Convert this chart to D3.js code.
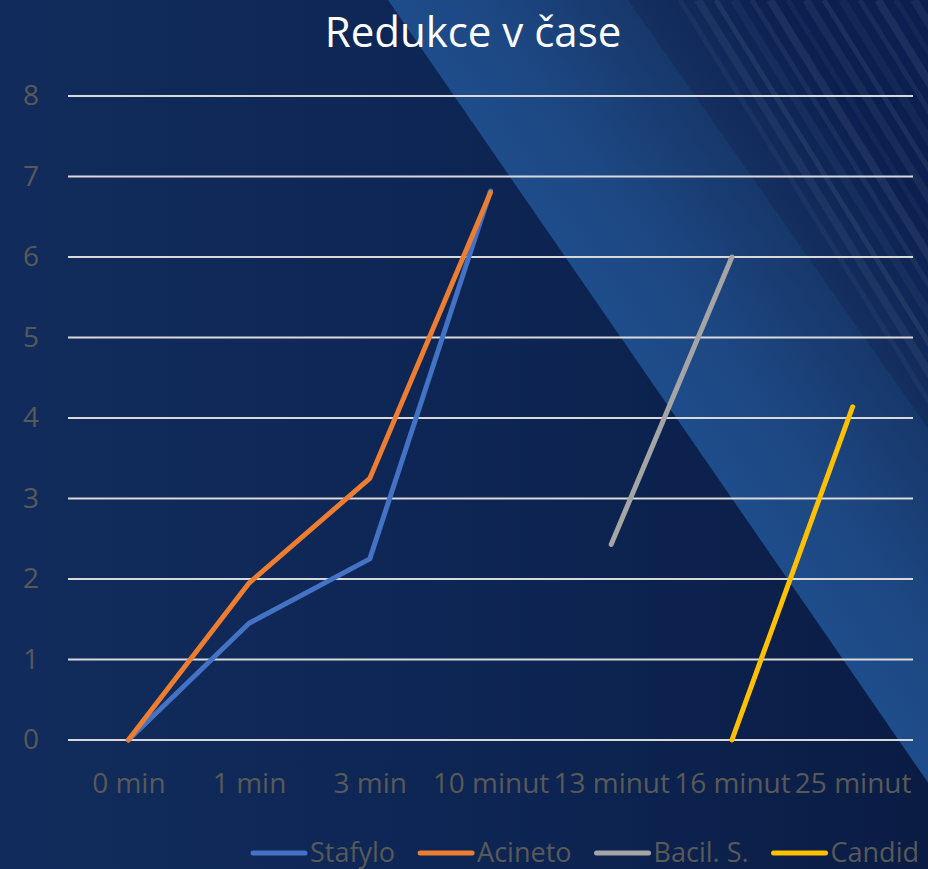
<!DOCTYPE html>
<html>
<head>
<meta charset="utf-8">
<script src="https://cdn.jsdelivr.net/npm/d3@7"></script>
<style>
  html, body { margin: 0; padding: 0; background: #0f2a58; }
  svg { display: block; }
  text { font-family: "Open Sans", "Noto Sans", sans-serif; }
</style>
</head>
<body>
<script>
// Categories (time points) and measured reductions per organism
const categories = ["0 min", "1 min", "3 min", "10 minut", "13 minut", "16 minut", "25 minut"];
const stafylo = [0, 1.45, 2.25, 6.82, null, null, null];
const acineto = [0, 1.95, 3.25, 6.8, null, null, null];
const bacil   = [null, null, null, null, 2.43, 6.0, null];
const candid  = [null, null, null, null, null, 0, 4.14];
const seriesNames = ["Stafylo", "Acineto", "Bacil. S.", "Candid"];
const seriesColors = ["#4472c4", "#ed7d31", "#a5a5a5", "#ffc000"];
const yTicks = [0, 1, 2, 3, 4, 5, 6, 7, 8];
const titleText = "Redukce v čase";

const W = 928, H = 869;
const svg = d3.select("body").append("svg").attr("width", W).attr("height", H);
const defs = svg.append("defs");

// ---- background ----
const baseGrad = defs.append("linearGradient").attr("id", "baseGrad")
  .attr("x1", 0).attr("y1", 0).attr("x2", 1).attr("y2", 0);
baseGrad.append("stop").attr("offset", 0).attr("stop-color", "#112c5c");
baseGrad.append("stop").attr("offset", 0.6).attr("stop-color", "#0d2452");
baseGrad.append("stop").attr("offset", 1).attr("stop-color", "#0a1c44");
svg.append("rect").attr("width", W).attr("height", H).attr("fill", "url(#baseGrad)");

// light diagonal band: region right of the line x = 388 + 0.69*y
const edge = y => 388 + 0.69 * y;
const lightGrad = defs.append("linearGradient").attr("id", "lightGrad")
  .attr("gradientUnits", "userSpaceOnUse")
  .attr("x1", edge(400)).attr("y1", 400)
  .attr("x2", edge(400) + 0.82 * 330).attr("y2", 400 - 0.57 * 330);
lightGrad.append("stop").attr("offset", 0).attr("stop-color", "#1e4d8b");
lightGrad.append("stop").attr("offset", 0.25).attr("stop-color", "#1d4782");
lightGrad.append("stop").attr("offset", 0.6).attr("stop-color", "#17386b");
lightGrad.append("stop").attr("offset", 1).attr("stop-color", "#112d5d");
const yEnd = (W - 388) / 0.69;
svg.append("path")
  .attr("d", `M${edge(0)},0 L${W},0 L${W},${yEnd} Z`)
  .attr("fill", "url(#lightGrad)");

// darker band with fine stripes in the upper right
const edge2 = y => 628 + 0.7 * y;
const y2End = (W - 628) / 0.7;
const darkGrad = defs.append("linearGradient").attr("id", "darkGrad")
  .attr("gradientUnits", "userSpaceOnUse")
  .attr("x1", edge2(200)).attr("y1", 200)
  .attr("x2", edge2(200) + 0.82 * 120).attr("y2", 200 - 0.57 * 120);
darkGrad.append("stop").attr("offset", 0).attr("stop-color", "#142f60");
darkGrad.append("stop").attr("offset", 1).attr("stop-color", "#0b2050");
const darkPath = `M${edge2(0)},0 L${W},0 L${W},${y2End} Z`;
defs.append("clipPath").attr("id", "darkClip").append("path").attr("d", darkPath);
svg.append("path").attr("d", darkPath).attr("fill", "url(#darkGrad)");
const stripes = svg.append("g").attr("clip-path", "url(#darkClip)");
d3.range(0, 20).forEach(i => {
  const x0 = 680 + i * 18;
  stripes.append("line")
    .attr("x1", x0).attr("y1", 0)
    .attr("x2", x0 + 0.62 * 600).attr("y2", 600)
    .attr("stroke", "#ffffff").attr("stroke-opacity", 0.04 + (i % 3) * 0.015)
    .attr("stroke-width", 5 + (i % 2) * 3);
});

// ---- title ----
svg.append("text")
  .attr("x", 473).attr("y", 47)
  .attr("text-anchor", "middle")
  .attr("fill", "#ffffff")
  .attr("font-size", 42)
  .text(titleText);

// ---- scales ----
const x = d3.scalePoint().domain(categories).range([68, 913]).padding(0.5);
const y = d3.scaleLinear().domain([0, 8]).range([740, 96]);

// gridlines
svg.append("g").selectAll("line").data(yTicks).join("line")
  .attr("x1", 68).attr("x2", 913)
  .attr("y1", d => y(d)).attr("y2", d => y(d))
  .attr("stroke", "#d9d9d9").attr("stroke-width", 1.8);

// y axis labels
const yAxis = svg.append("g").attr("transform", "translate(39,0)")
  .call(d3.axisLeft(y).tickValues(yTicks).tickSize(0).tickPadding(0));
yAxis.select(".domain").remove();
yAxis.selectAll("text")
  .attr("font-size", 28).attr("fill", "#595959")
  .attr("font-family", "Open Sans, sans-serif");

// x axis labels
const xAxis = svg.append("g").attr("transform", "translate(0,772)")
  .call(d3.axisBottom(x).tickSize(0).tickPadding(0));
xAxis.select(".domain").remove();
xAxis.selectAll("text")
  .attr("font-size", 28).attr("fill", "#595959")
  .attr("font-family", "Open Sans, sans-serif")
  .attr("dy", "0.75em");

// ---- series lines ----
const allSeries = [stafylo, acineto, bacil, candid];
const line = d3.line()
  .defined(d => d.v !== null)
  .x(d => x(d.c))
  .y(d => y(d.v));
allSeries.forEach((vals, i) => {
  const pts = categories.map((c, j) => ({ c, v: vals[j] }));
  svg.append("path")
    .attr("d", line(pts))
    .attr("fill", "none")
    .attr("stroke", seriesColors[i])
    .attr("stroke-width", 5)
    .attr("stroke-linecap", "round")
    .attr("stroke-linejoin", "round");
});

// ---- legend ----
const legend = svg.append("g");
let lx = 251;
const ly = 853;
seriesNames.forEach((name, i) => {
  legend.append("line")
    .attr("x1", lx + 2).attr("x2", lx + 54)
    .attr("y1", ly).attr("y2", ly)
    .attr("stroke", seriesColors[i]).attr("stroke-width", 5)
    .attr("stroke-linecap", "round");
  const t = legend.append("text")
    .attr("x", lx + 59).attr("y", ly + 9)
    .attr("font-size", 27).attr("fill", "#595959")
    .text(name);
  lx += 59 + t.node().getComputedTextLength() + 23;
});
</script>
</body>
</html>
